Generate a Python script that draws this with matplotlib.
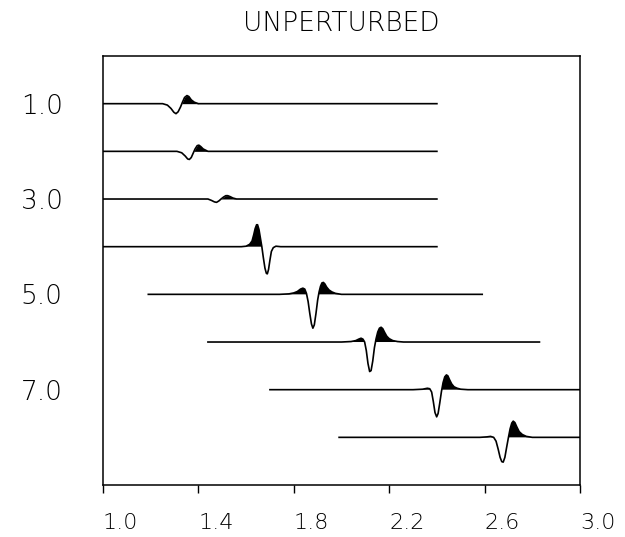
import numpy as np
import matplotlib
matplotlib.use("Agg")
import matplotlib.pyplot as plt

# trace offsets (y) and start / end times of each record
offsets = [1, 2, 3, 4, 5, 6, 7, 8]
t_start = [1.00, 1.00, 1.00, 1.00, 1.19, 1.44, 1.70, 1.99]
t_end = [2.40, 2.40, 2.40, 2.40, 2.59, 2.83, 3.10, 3.39]

# wavelet samples (time, amplitude in y units, up = positive)
wave_t = [
    [1.25, 1.27, 1.285, 1.297, 1.306, 1.315, 1.325, 1.333, 1.342, 1.352, 1.36, 1.37, 1.383, 1.40],
    [1.31, 1.33, 1.345, 1.355, 1.362, 1.37, 1.378, 1.386, 1.395, 1.402, 1.41, 1.42, 1.44],
    [1.44, 1.455, 1.467, 1.476, 1.486, 1.495, 1.505, 1.515, 1.523, 1.533, 1.545, 1.56],
    [1.58, 1.60, 1.615, 1.625, 1.632, 1.638, 1.644, 1.648, 1.654, 1.66, 1.666, 1.672, 1.679,
     1.685, 1.689, 1.694, 1.70, 1.706, 1.714, 1.725, 1.745],
    [1.74, 1.78, 1.80, 1.815, 1.828, 1.838, 1.846, 1.853, 1.86, 1.867, 1.874, 1.88, 1.886,
     1.893, 1.90, 1.906, 1.912, 1.918, 1.924, 1.93, 1.938, 1.948, 1.96, 1.975, 2.0],
    [2.00, 2.04, 2.06, 2.072, 2.082, 2.09, 2.097, 2.104, 2.111, 2.118, 2.124, 2.131, 2.138,
     2.145, 2.152, 2.159, 2.166, 2.173, 2.181, 2.19, 2.20, 2.215, 2.235, 2.26],
    [2.30, 2.34, 2.36, 2.37, 2.378, 2.385, 2.392, 2.399, 2.405, 2.412, 2.419, 2.426, 2.433,
     2.44, 2.446, 2.453, 2.462, 2.472, 2.485, 2.50, 2.53],
    [2.58, 2.61, 2.625, 2.638, 2.648, 2.657, 2.665, 2.672, 2.678, 2.685, 2.692, 2.70, 2.707,
     2.714, 2.72, 2.727, 2.735, 2.745, 2.758, 2.775, 2.80],
]
wave_a = [
    [0, -0.03, -0.10, -0.18, -0.21, -0.17, -0.07, 0.03, 0.13, 0.17, 0.15, 0.08, 0.03, 0],
    [0, -0.03, -0.10, -0.16, -0.17, -0.13, -0.04, 0.05, 0.12, 0.13, 0.10, 0.05, 0],
    [0, -0.03, -0.06, -0.07, -0.04, 0.0, 0.04, 0.07, 0.07, 0.05, 0.02, 0],
    [0, 0.01, 0.05, 0.12, 0.25, 0.38, 0.46, 0.46, 0.36, 0.18, 0.0, -0.22, -0.45,
     -0.56, -0.57, -0.48, -0.28, -0.10, -0.02, 0.01, 0],
    [0, 0.01, 0.03, 0.06, 0.11, 0.13, 0.11, 0.02, -0.15, -0.40, -0.62, -0.71, -0.64,
     -0.40, -0.12, 0.05, 0.17, 0.24, 0.25, 0.22, 0.15, 0.09, 0.05, 0.02, 0],
    [0, 0.01, 0.03, 0.06, 0.08, 0.06, 0.0, -0.18, -0.45, -0.62, -0.60, -0.40, -0.12,
     0.07, 0.21, 0.29, 0.31, 0.28, 0.20, 0.12, 0.07, 0.03, 0.01, 0],
    [0, 0.01, 0.03, 0.02, -0.05, -0.25, -0.48, -0.57, -0.50, -0.28, -0.04, 0.15, 0.27,
     0.31, 0.29, 0.21, 0.12, 0.06, 0.03, 0.01, 0],
    [0, 0.01, 0.02, 0.0, -0.08, -0.25, -0.42, -0.51, -0.52, -0.42, -0.22, 0.0, 0.18,
     0.30, 0.34, 0.31, 0.22, 0.12, 0.06, 0.02, 0],
]

x_ticks = [1.0, 1.4, 1.8, 2.2, 2.6, 3.0]
x_labels = ["1.0", "1.4", "1.8", "2.2", "2.6", "3.0"]
y_ticks = [1, 3, 5, 7]
y_labels = ["1.0", "3.0", "5.0", "7.0"]

plt.rcParams['font.family'] = ['DejaVu Sans']

fig = plt.figure(figsize=(6.25, 5.37), dpi=100)
ax = fig.add_axes([0.1648, 0.0968, 0.7632, 0.7989])

for off, ts, te, wt, wa in zip(offsets, t_start, t_end, wave_t, wave_a):
    t = np.array([ts] + wt + [te])
    a = np.array([0.0] + wa + [0.0])
    y = off - a
    ax.plot(t, y, color="black", lw=1.2, solid_joinstyle="round")
    ax.fill_between(t, y, off, where=a > 0, interpolate=True, color="black", lw=0)

ax.set_xlim(1.0, 3.0)
ax.set_ylim(9, 0)

ax.set_xticks(x_ticks)
ax.set_xticklabels(x_labels, fontsize=16, fontweight="light", ha="left")
ax.tick_params(axis="x", direction="out", length=6, width=1.0, pad=14)

ax.set_yticks(y_ticks)
ax.set_yticklabels(y_labels, fontsize=19, fontweight="light")
ax.tick_params(axis="y", length=0, pad=29)

for s in ax.spines.values():
    s.set_linewidth(1.1)

ax.set_title("UNPERTURBED", fontsize=19, fontweight="light", pad=18)

fig.savefig("out.png", dpi=100)
